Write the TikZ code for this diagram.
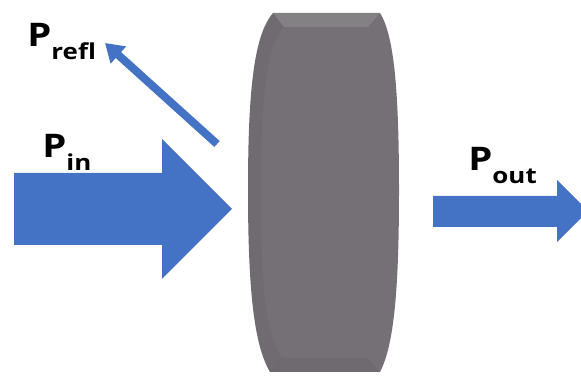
\documentclass[tikz,border=0pt]{standalone}
\usepackage{fontspec}
\setmainfont{Open Sans}[FakeStretch=1.18]
\usetikzlibrary{arrows.meta,calc,positioning}
\definecolor{beamblue}{HTML}{4472C4}
\definecolor{slabgray}{HTML}{747075}
\newcommand{\Pw}[1]{P\raisebox{-7pt}{\fontsize{12.5}{12.5}\selectfont #1}}

\begin{document}
\begin{tikzpicture}[x=0.02cm,y=-0.02cm,
  lab/.style={anchor=base west,inner sep=0pt,font=\bfseries\fontsize{18.5}{18.5}\selectfont},
  beam/.style={fill=beamblue,draw=none}]
\useasboundingbox (0,0) rectangle (581,377);
% slab
\fill[slabgray] (273,13) -- (380,13) .. controls (394,35) and (399,90) .. (399,190)
  .. controls (399,290) and (394,345) .. (380,372) -- (270,372)
  .. controls (254,345) and (248,290) .. (248,190)
  .. controls (248,90) and (254,35) .. (273,13) -- cycle;
\fill[white,opacity=.12] (273,13) -- (380,13) -- (368,27) -- (284,27) -- cycle;
\fill[black,opacity=.05] (270,372) -- (380,372) -- (368,358) -- (282,358) -- cycle;
\fill[black,opacity=.04] (273,13) .. controls (254,35) and (248,90) .. (248,190)
  .. controls (248,290) and (254,345) .. (270,372) -- (282,358)
  .. controls (264,330) and (261,280) .. (261,190)
  .. controls (261,100) and (266,45) .. (284,27) -- cycle;
% beams
\fill[beam] (14,173) -- (162,173) -- (162,139) -- (232,209) -- (162,279) -- (162,245) -- (14,245) -- cycle;
\fill[beam] (433,196) -- (557,196) -- (557,180) -- (588,211) -- (557,242) -- (557,227) -- (433,227) -- cycle;
\coordinate (rs) at (217,144);
\coordinate (re) at (105,43);
\draw[beamblue,line width=0.16cm,-{Triangle[length=0.36cm,width=0.44cm]}] (rs) -- (re);
% labels
\node[lab] (prefl) at (27,47) {\Pw{refl}};
\node[lab] (pin) at (42,158) {\Pw{in}};
\node[lab] (pout) at (468,171) {\Pw{out}};
\end{tikzpicture}
\end{document}
